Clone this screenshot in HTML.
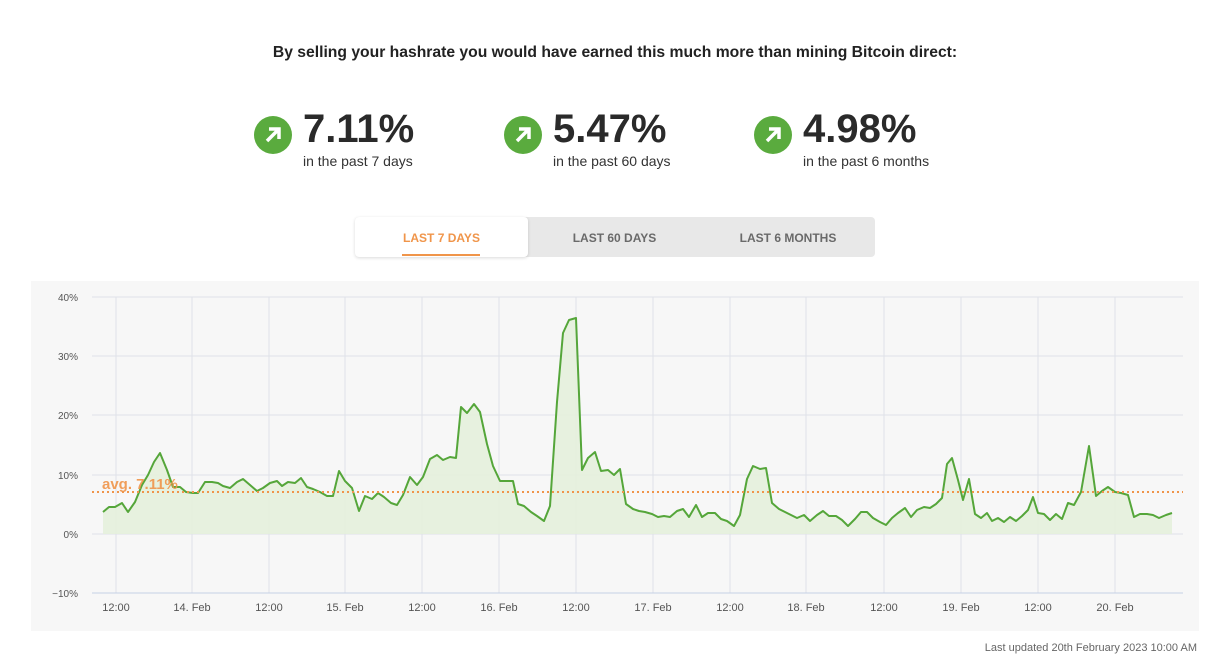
<!DOCTYPE html>
<html><head><meta charset="utf-8"><style>
body{margin:0;width:1226px;height:666px;background:#fff;font-family:"Liberation Sans",sans-serif;position:relative;overflow:hidden}
.abs{position:absolute}
h1{position:absolute;top:44px;left:0;width:1230px;text-align:center;font-size:15.7px;font-weight:bold;color:#222;margin:0}
.stat{position:absolute;top:112px}
.circ{position:absolute;left:0;top:4px;width:38px;height:38px;border-radius:50%;background:#5aab3e}
.big{position:absolute;left:49px;top:-5px;font-size:40px;font-weight:bold;color:#2a2a2a;white-space:nowrap}
.sub{position:absolute;left:49px;top:41px;font-size:14px;color:#333;white-space:nowrap}
.tabs{position:absolute;left:355px;top:217px;width:520px;height:40px;background:#e8e8e8;border-radius:4px}
.tab{position:absolute;top:0;height:40px;line-height:43px;font-size:12px;font-weight:bold;color:#6a6a6a;text-align:center}
</style></head><body>
<h1>By selling your hashrate you would have earned this much more than mining Bitcoin direct:</h1>
<div class="stat" style="left:254px"><div class="circ"><svg width="38" height="38"><path d="M13 25 L25 13 M15 13 H25 V23" stroke="#fff" stroke-width="3.5" fill="none"/></svg></div><div class="big">7.11%</div><div class="sub">in the past 7 days</div></div>
<div class="stat" style="left:504px"><div class="circ"><svg width="38" height="38"><path d="M13 25 L25 13 M15 13 H25 V23" stroke="#fff" stroke-width="3.5" fill="none"/></svg></div><div class="big">5.47%</div><div class="sub">in the past 60 days</div></div>
<div class="stat" style="left:754px"><div class="circ"><svg width="38" height="38"><path d="M13 25 L25 13 M15 13 H25 V23" stroke="#fff" stroke-width="3.5" fill="none"/></svg></div><div class="big">4.98%</div><div class="sub">in the past 6 months</div></div>
<div class="tabs">
<div class="tab" style="left:0;width:173px;background:#fff;border-radius:4px;box-shadow:0 1px 3px rgba(0,0,0,.15);color:#f0954a">LAST 7 DAYS<div class="abs" style="left:47px;top:37px;width:78px;height:2px;background:#f0954a"></div></div>
<div class="tab" style="left:173px;width:173px">LAST 60 DAYS</div>
<div class="tab" style="left:346px;width:174px">LAST 6 MONTHS</div>
</div>
<svg class="abs" style="left:0;top:0" width="1226" height="666" font-family="Liberation Sans, sans-serif">
<rect x="31" y="281" width="1168" height="350" fill="#f7f7f7"/>
<g stroke="#dfe2e8" stroke-width="1">
<line x1="92" x2="1183" y1="297" y2="297"/><line x1="92" x2="1183" y1="356" y2="356"/><line x1="92" x2="1183" y1="415" y2="415"/><line x1="92" x2="1183" y1="475" y2="475"/><line x1="92" x2="1183" y1="534" y2="534"/>
<line x1="116" x2="116" y1="297" y2="593"/><line x1="192" x2="192" y1="297" y2="593"/><line x1="269" x2="269" y1="297" y2="593"/><line x1="345" x2="345" y1="297" y2="593"/><line x1="422" x2="422" y1="297" y2="593"/><line x1="499" x2="499" y1="297" y2="593"/><line x1="576" x2="576" y1="297" y2="593"/><line x1="653" x2="653" y1="297" y2="593"/><line x1="730" x2="730" y1="297" y2="593"/><line x1="806" x2="806" y1="297" y2="593"/><line x1="884" x2="884" y1="297" y2="593"/><line x1="961" x2="961" y1="297" y2="593"/><line x1="1038" x2="1038" y1="297" y2="593"/><line x1="1115" x2="1115" y1="297" y2="593"/>
</g>
<line x1="92" x2="1183" y1="593" y2="593" stroke="#c5d0e6"/>
<g font-size="10" fill="#555" text-anchor="end">
<text x="78" y="301">40%</text><text x="78" y="360">30%</text><text x="78" y="419">20%</text><text x="78" y="479">10%</text><text x="78" y="538">0%</text><text x="78" y="597">−10%</text></g>
<g font-size="11" fill="#555" text-anchor="middle">
<text x="116" y="611">12:00</text><text x="192" y="611">14. Feb</text><text x="269" y="611">12:00</text><text x="345" y="611">15. Feb</text><text x="422" y="611">12:00</text><text x="499" y="611">16. Feb</text><text x="576" y="611">12:00</text><text x="653" y="611">17. Feb</text><text x="730" y="611">12:00</text><text x="806" y="611">18. Feb</text><text x="884" y="611">12:00</text><text x="961" y="611">19. Feb</text><text x="1038" y="611">12:00</text><text x="1115" y="611">20. Feb</text></g>
<polygon fill="#e4f0dc" opacity="0.9" points="103,534 103,512 109,507 115,507 122,503 128,512 135,502 142,485 148,475 154,462 160,453 167,470 173,487 180,487 186,492 193,493 198,493 205,482 212,482 218,483 223,486 230,488 237,482 243,479 250,485 257,491 263,488 270,483 277,481 282,486 288,482 295,483 301,478 307,487 313,489 320,492 327,496 333,496 339,471 345,481 352,488 359,511 365,496 372,499 378,493 384,497 391,503 397,505 403,495 410,477 417,485 423,477 430,459 437,455 443,460 450,457 456,458 461,407 467,413 474,404 480,412 487,444 493,466 500,481 506,481 513,481 518,504 524,506 531,512 537,516 544,521 550,506 557,402 563,333 569,320 576,318 582,470 588,458 595,452 601,471 608,470 614,475 620,469 626,504 633,509 639,511 645,512 652,514 658,517 664,516 670,517 677,511 683,509 689,517 696,505 702,517 708,513 715,513 721,519 727,521 734,526 740,515 747,479 753,466 760,469 766,468 772,503 779,509 785,512 791,515 797,518 804,515 810,521 817,515 823,511 829,516 836,516 842,520 848,526 855,519 861,512 867,512 873,518 880,522 886,525 892,518 898,513 905,508 911,517 917,510 924,507 930,508 936,504 942,498 947,464 952,458 958,480 963,500 969,479 975,514 981,518 987,513 992,521 998,518 1004,522 1010,517 1016,521 1022,516 1028,510 1033,497 1038,513 1044,514 1050,520 1056,514 1062,519 1068,503 1074,505 1081,492 1089,446 1096,496 1102,491 1108,487 1115,492 1121,493 1128,495 1134,517 1140,514 1147,514 1153,515 1159,518 1166,515 1172,513 1172,534"/>
<polyline fill="none" stroke="#55a63a" stroke-width="2" stroke-linejoin="round" points="103,512 109,507 115,507 122,503 128,512 135,502 142,485 148,475 154,462 160,453 167,470 173,487 180,487 186,492 193,493 198,493 205,482 212,482 218,483 223,486 230,488 237,482 243,479 250,485 257,491 263,488 270,483 277,481 282,486 288,482 295,483 301,478 307,487 313,489 320,492 327,496 333,496 339,471 345,481 352,488 359,511 365,496 372,499 378,493 384,497 391,503 397,505 403,495 410,477 417,485 423,477 430,459 437,455 443,460 450,457 456,458 461,407 467,413 474,404 480,412 487,444 493,466 500,481 506,481 513,481 518,504 524,506 531,512 537,516 544,521 550,506 557,402 563,333 569,320 576,318 582,470 588,458 595,452 601,471 608,470 614,475 620,469 626,504 633,509 639,511 645,512 652,514 658,517 664,516 670,517 677,511 683,509 689,517 696,505 702,517 708,513 715,513 721,519 727,521 734,526 740,515 747,479 753,466 760,469 766,468 772,503 779,509 785,512 791,515 797,518 804,515 810,521 817,515 823,511 829,516 836,516 842,520 848,526 855,519 861,512 867,512 873,518 880,522 886,525 892,518 898,513 905,508 911,517 917,510 924,507 930,508 936,504 942,498 947,464 952,458 958,480 963,500 969,479 975,514 981,518 987,513 992,521 998,518 1004,522 1010,517 1016,521 1022,516 1028,510 1033,497 1038,513 1044,514 1050,520 1056,514 1062,519 1068,503 1074,505 1081,492 1089,446 1096,496 1102,491 1108,487 1115,492 1121,493 1128,495 1134,517 1140,514 1147,514 1153,515 1159,518 1166,515 1172,513"/>
<line x1="92" x2="1183" y1="492" y2="492" stroke="#f0954a" stroke-width="2" stroke-dasharray="2,3"/>
<text x="102" y="489" font-size="15" font-weight="bold" fill="#f0954a" opacity="0.9">avg. 7.11%</text>
<text x="1197" y="651" font-size="11" fill="#666" text-anchor="end">Last updated 20th February 2023 10:00 AM</text>
</svg>
</body></html>
